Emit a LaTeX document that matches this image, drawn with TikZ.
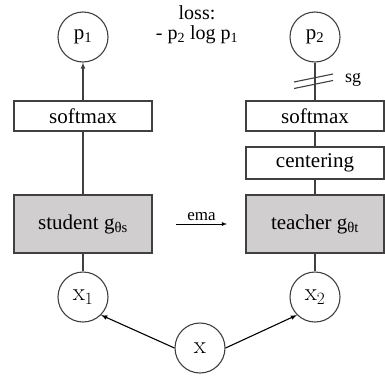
\documentclass[tikz,border=0pt]{standalone}
\usepackage[no-math]{fontspec}
\setmainfont{Liberation Serif}
\usetikzlibrary{arrows}
\definecolor{edgegray}{RGB}{64,64,64}
\definecolor{boxgray}{RGB}{208,206,206}
\tikzset{
	prob/.style={draw=edgegray, circle, line width=1.1pt, minimum size=50pt, inner sep=0pt, font=\fontsize{21}{25}\selectfont},
	inp/.style={prob, font=\fontsize{25}{28}\selectfont},
	layer/.style={draw=edgegray, line width=1.1pt, minimum width=138pt, minimum height=30pt, inner sep=0pt, font=\fontsize{21}{25}\selectfont},
	net/.style={layer, fill=boxgray, minimum height=58pt},
	link/.style={draw=edgegray, line width=1.1pt},
	feed/.style={draw=black, line width=1.1pt, -latex},
}
\begin{document}
\begin{tikzpicture}[x=1pt,y=1pt]
		\useasboundingbox (0,0) rectangle (385,-375);
		%Outputs
		\node[prob] (p1) at (83,-37) {p\textsubscript{1}};
		\node[prob] (p2) at (315,-37) {p\textsubscript{2}};
		\node[align=center, font=\fontsize{20}{20}\selectfont] (loss) at (197,-25) {loss:\\- p\textsubscript{2} log p\textsubscript{1}};
		%Heads
		\node[layer] (smaxS) at (83,-116) {softmax};
		\node[layer] (smaxT) at (315,-116) {softmax};
		\node[layer, minimum height=32pt] (cent) at (315,-163) {centering};
		%Networks
		\node[net] (student) at (83,-224) {student g\textsubscript{θs}};
		\node[net] (teacher) at (315,-224) {teacher g\textsubscript{θt}};
		\coordinate (emaS) at (176,-224);
		\coordinate (emaT) at (227,-224);
		\draw[feed, line width=0.8pt] (emaS) -- (emaT) node[midway, above, font=\fontsize{17}{20}\selectfont] (ema) {ema};
		%Inputs
		\node[inp] (x1) at (83,-297) {$\mathrm{x}_1$};
		\node[inp] (x2) at (315,-297) {$\mathrm{x}_2$};
		\node[inp] (x) at (200,-348) {$\mathrm{x}$};
		%Student branch
		\draw[feed] (x.west) -- (x1.south east);
		\draw[link] (x1) -- (student);
		\draw[link] (student) -- (smaxS);
		\draw[link, -latex] (smaxS) -- (p1);
		%Teacher branch
		\draw[feed] (x.east) -- (x2.south west);
		\draw[link] (x2) -- (teacher);
		\draw[link] (teacher) -- (cent);
		\draw[link] (cent) -- (smaxT);
		\draw[link] (smaxT) -- (p2) coordinate[pos=0.5] (cut);
		\draw[link] ([shift={(-21,-0.5)}]cut) -- ([shift={(18,7.5)}]cut);
		\draw[link] ([shift={(-21,-7)}]cut) -- ([shift={(18,1)}]cut);
		\node[font=\fontsize{18}{20}\selectfont] (sg) at (353,-80) {sg};
\end{tikzpicture}
\end{document}
